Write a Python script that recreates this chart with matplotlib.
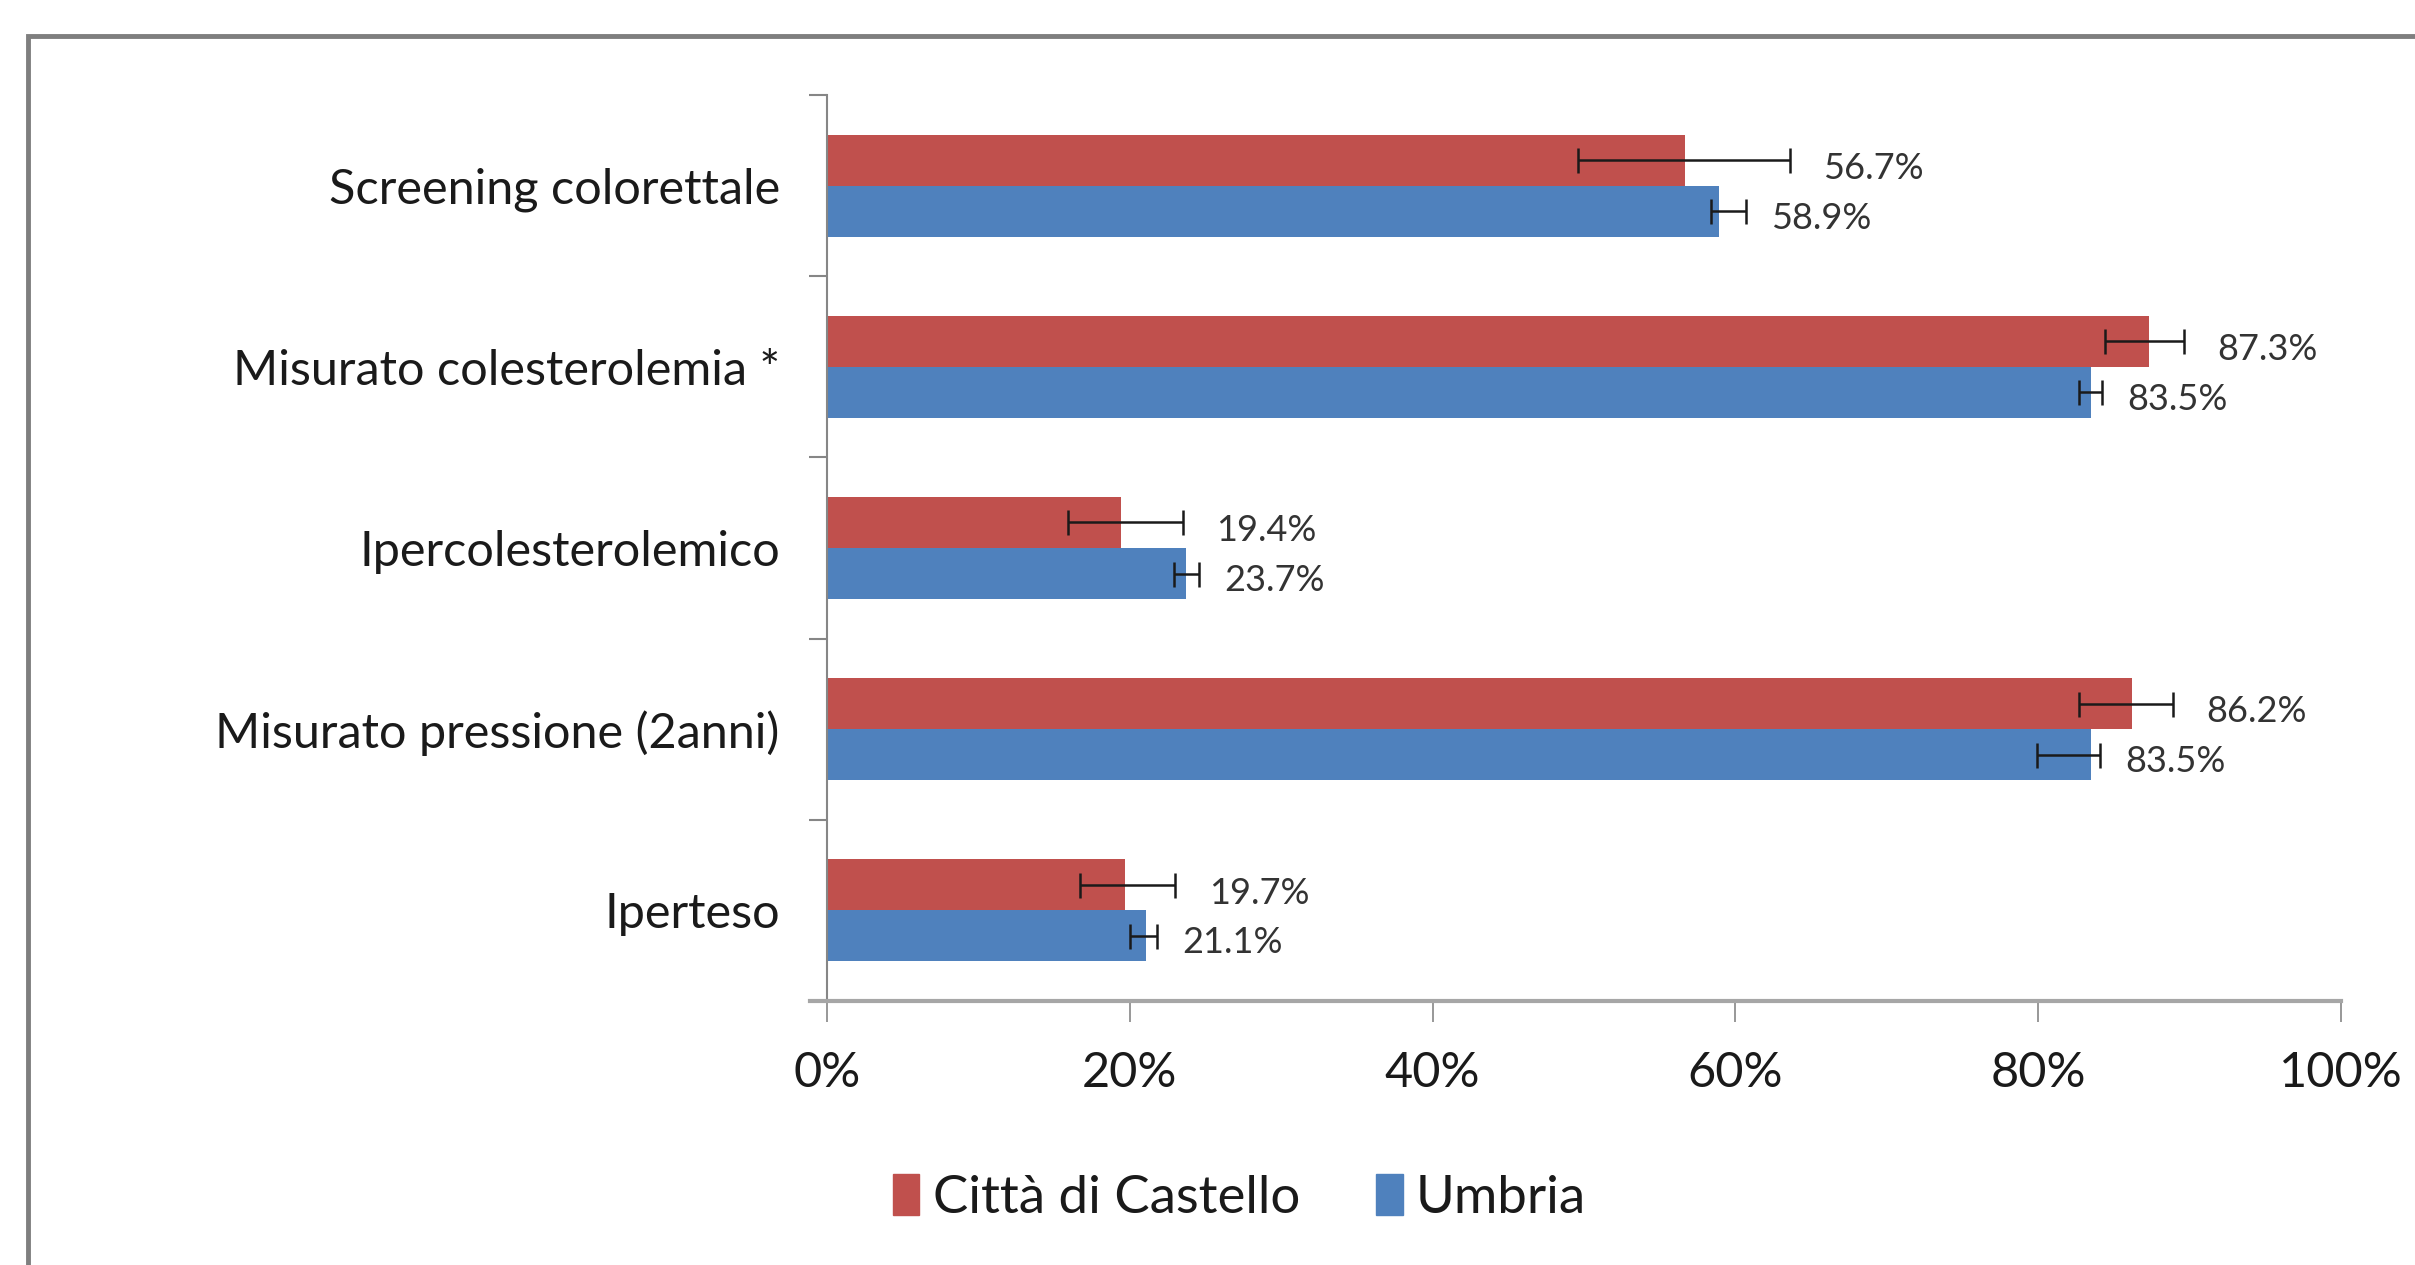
import numpy as np
import matplotlib
matplotlib.use("Agg")
import matplotlib.pyplot as plt
from matplotlib.patches import Rectangle, Patch

plt.rcParams['font.family'] = ['Lato', 'DejaVu Sans']

# data, bottom to top
categories = ["Iperteso", "Misurato pressione (2anni)", "Ipercolesterolemico",
              "Misurato colesterolemia *", "Screening colorettale"]
citta = [19.7, 86.2, 19.4, 87.3, 56.7]
citta_lo = [16.7, 82.7, 15.9, 84.4, 49.6]
citta_hi = [23.0, 88.9, 23.5, 89.6, 63.6]
umbria = [21.1, 83.5, 23.7, 83.5, 58.9]
umbria_lo = [20.0, 79.9, 22.9, 82.7, 58.4]
umbria_hi = [21.8, 84.1, 24.6, 84.2, 60.7]
xticks = [0, 20, 40, 60, 80, 100]
series_names = ["Città di Castello", "Umbria"]

red = '#C0504D'
blue = '#4F81BD'
grey = '#868686'

W, H = 2415, 1265
fig = plt.figure(figsize=(W / 100, H / 100), dpi=100)
ax = fig.add_axes([827 / W, 1 - 1001 / H, (2341 - 827) / W, (1001 - 95) / H])

# outer frame (runs off the right and bottom edges)
fig.patches.append(Rectangle((28 / W, -0.2), 1.2, 1.2 - 36 / H,
                             transform=fig.transFigure, fill=False,
                             edgecolor='#7f7f7f', linewidth=3.5, clip_on=False))

y = np.arange(len(categories))
h = 0.282
c = np.array(citta)
u = np.array(umbria)
c_err = [c - np.array(citta_lo), np.array(citta_hi) - c]
u_err = [u - np.array(umbria_lo), np.array(umbria_hi) - u]

ax.barh(y + h / 2, c, height=h, color=red, zorder=2)
ax.barh(y - h / 2, u, height=h, color=blue, zorder=2)
ax.errorbar(c, y + h / 2, xerr=c_err, fmt='none', ecolor='#1a1a1a',
            elinewidth=1.8, capsize=9, capthick=1.8, zorder=3)
ax.errorbar(u, y - h / 2, xerr=u_err, fmt='none', ecolor='#1a1a1a',
            elinewidth=1.8, capsize=9, capthick=1.8, zorder=3)

for i in range(len(categories)):
    ax.annotate(f"{citta[i]:.1f}%", (citta_hi[i], y[i] + h / 2),
                xytext=(24, -6), textcoords='offset points', va='center',
                ha='left', fontsize=26, color='#333333')
    ax.annotate(f"{umbria[i]:.1f}%", (umbria_hi[i], y[i] - h / 2),
                xytext=(18, -5), textcoords='offset points', va='center',
                ha='left', fontsize=26, color='#333333')

ax.set_xlim(0, 100)
ax.set_ylim(-0.5, len(categories) - 0.5)
ax.set_xticks(xticks)
ax.set_xticklabels([f"{t}%" for t in xticks], fontsize=35, color='#1a1a1a')
ax.set_yticks(np.arange(-0.5, len(categories), 1.0))
ax.set_yticklabels([])
ax.set_yticks(y, minor=True)
ax.set_yticklabels(categories, minor=True, fontsize=35, color='#1a1a1a')
ax.tick_params(axis='y', which='major', length=13, width=1.5, color=grey)
ax.tick_params(axis='y', which='minor', length=0, pad=34)
ax.tick_params(axis='x', length=15, width=1.2, color=grey, pad=21)

for s in ['top', 'right']:
    ax.spines[s].set_visible(False)
ax.spines['left'].set_color(grey)
ax.spines['left'].set_linewidth(1.5)
ax.spines['bottom'].set_color('#a6a6a6')
ax.spines['bottom'].set_linewidth(3)
ax.spines['bottom'].set_bounds(-1.1, 100)

handles = [Patch(color=red), Patch(color=blue)]
fig.legend(handles, series_names, loc='center left',
           bbox_to_anchor=(893 / W, 1 - 1198 / H), frameon=False,
           borderpad=0, borderaxespad=0,
           fontsize=38, handlelength=0.5, handleheight=0.8,
           handletextpad=0.25, columnspacing=1.45, ncol=2, labelcolor='#1a1a1a')

fig.savefig("out.png", dpi=100)
